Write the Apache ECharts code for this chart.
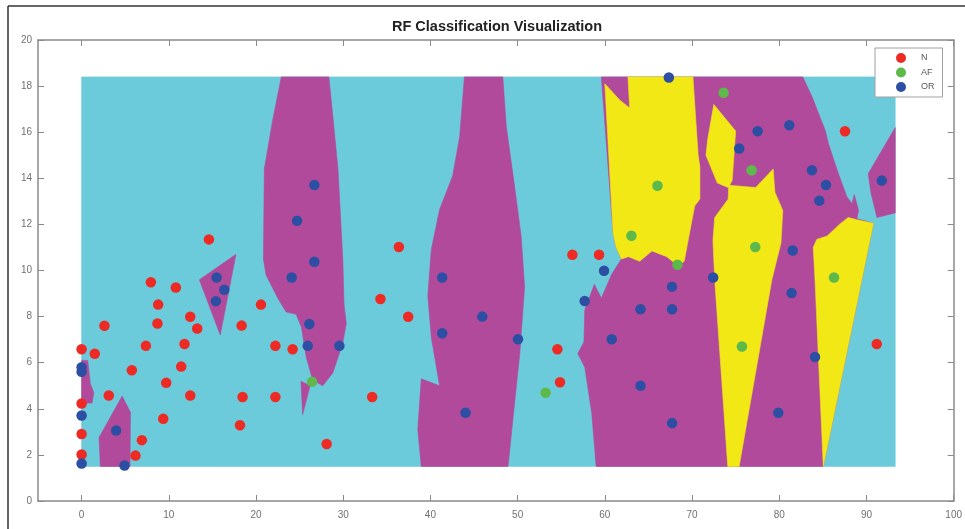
<!DOCTYPE html>
<html><head><meta charset="utf-8">
<script src="https://cdn.jsdelivr.net/npm/echarts@6/dist/echarts.min.js"></script>
<style>html,body{margin:0;padding:0;background:#fff}#c{width:965px;height:529px}</style>
</head><body><div id="c"></div>
<script>
// ---- tick labels ----
const xTicks = [0,10,20,30,40,50,60,70,80,90,100];
const yTicks = [0,2,4,6,8,10,12,14,16,18,20];
const classNames = ['N','AF','OR'];

// ---- observations ----
const pointsN = [[0,6.58],[1.51,6.39],[2.62,7.6],[5.76,5.67],[0,4.23],[3.12,4.58],[0,2.91],[0,2.02],[6.18,1.97],[6.91,2.64],[7.37,6.73],[7.94,9.49],[8.78,8.52],[8.7,7.7],[9.7,5.13],[9.36,3.57],[10.81,9.26],[11.8,6.81],[11.42,5.83],[12.46,7.99],[13.26,7.48],[12.46,4.58],[14.6,11.35],[18.35,7.61],[18.46,4.51],[18.16,3.29],[20.57,8.52],[22.22,6.73],[22.22,4.51],[24.2,6.58],[28.1,2.47],[33.32,4.51],[34.27,8.76],[36.38,11.02],[37.45,7.99],[54.56,6.58],[54.86,5.15],[91.18,6.81],[56.28,10.68],[59.34,10.68],[87.54,16.04]];
const pointsAF = [[26.43,5.17],[53.21,4.7],[63.05,11.51],[66.04,13.68],[68.33,10.25],[73.62,17.71],[76.83,14.35],[77.25,11.02],[75.72,6.7],[86.28,9.7]];
const pointsOR = [[0,5.8],[0,5.61],[0,3.71],[0,1.63],[3.96,3.06],[4.92,1.54],[15.48,9.7],[16.36,9.16],[15.4,8.67],[24.09,9.7],[26.12,7.68],[25.93,6.73],[29.56,6.73],[26.69,13.71],[24.71,12.16],[26.69,10.38],[41.35,9.7],[41.35,7.28],[44.03,3.83],[45.95,8.0],[50.04,7.02],[59.91,9.99],[57.69,8.68],[60.79,7.02],[64.09,8.32],[67.71,9.3],[67.71,8.32],[64.09,5.0],[67.71,3.38],[72.42,9.7],[81.42,9.02],[84.1,6.25],[79.89,3.83],[67.34,18.37],[75.41,15.29],[77.52,16.04],[81.15,16.3],[83.75,14.35],[85.36,13.71],[84.6,13.03],[91.76,13.9],[81.54,10.87]];

// ---- decision regions (polygon vertices in data units) ----
const regionCyan = [[[0,1.5],[93.3,1.5],[93.3,18.4],[0,18.4]]];
const regionMagenta = [
  [[0,6.1],[0.7,6.1],[1.0,5.1],[1.4,4.7],[1.2,4.25],[0,4.25]],
  [[2.0,2.75],[4.65,4.55],[5.6,3.85],[5.55,1.5],[2.15,1.5]],
  [[13.5,9.6],[17.7,10.7],[15.9,7.2]],
  [[22.9,18.4],[28.35,18.4],[28.6,17.5],[29.4,14.4],[29.95,10.5],[30.1,8.5],[30.35,7.7],[29.95,6.85],[28.8,5.55],[27.65,5.0],[26.5,5.25],[25.75,6.25],[25.2,7.55],[24.6,8.1],[23.45,8.2],[22.5,8.8],[21.15,9.8],[20.85,10.5],[20.95,14.4],[21.9,16.5]],
  [[25.15,5.2],[26.2,5.0],[25.35,3.75]],
  [[43.9,18.4],[48.3,18.4],[48.7,16.25],[49.65,13.65],[50.4,11.5],[50.8,9.3],[50.25,6.4],[49.65,4.25],[48.9,1.5],[38.95,1.5],[38.55,3.1],[38.95,5.3],[41.05,5.0],[40.1,7.1],[39.7,8.9],[40.1,10.9],[41.05,12.65],[42.55,14.1],[43.35,15.8]],
  [[59.6,18.4],[82.7,18.4],[83.75,17.55],[85.3,16.05],[85.65,15.5],[86.6,14.4],[87.75,13.2],[88.35,12.9],[88.6,13.3],[89.1,12.6],[88.9,12.25],[90.8,12.05],[85.05,1.5],[59.0,1.5],[58.5,3.8],[57.7,5.8],[56.9,6.4],[57.6,6.9],[57.7,8.3],[58.8,9.4],[59.6,8.8],[60.8,9.85],[61.9,10.5],[61.3,11.0],[60.95,11.6]],
  [[93.3,16.2],[90.2,14.2],[90.5,13.4],[91.2,12.3],[93.3,12.5]]
];
const regionYellow = [
  [[62.65,18.4],[70.1,18.4],[70.7,15.0],[70.9,14.5],[70.9,13.1],[70.3,12.8],[69.9,12.0],[69.1,10.4],[68.4,10.2],[67.1,10.6],[65.4,10.85],[64.0,10.4],[62.7,10.6],[61.9,10.5],[61.3,11.0],[60.95,11.6],[60.0,18.1],[61.7,17.4],[62.85,17.05]],
  [[72.5,17.2],[75.0,16.05],[74.6,13.9],[74.15,13.6],[72.9,13.8],[71.6,15.0],[71.8,15.7]],
  [[74.2,13.7],[77.3,13.6],[79.3,14.4],[79.5,13.4],[80.4,12.6],[80.2,11.2],[79.15,9.6],[75.4,1.5],[74.1,1.5],[72.6,9.6],[72.4,11.3],[72.6,12.3],[74.15,13.1]],
  [[84.3,11.35],[85.5,11.5],[86.9,12.0],[87.9,12.3],[88.9,12.2],[90.8,12.05],[85.05,1.5],[84.1,9.6],[83.9,11.0]]
];

const COL = {cyan:'#6ccbdb', magenta:'#b24a9c', yellow:'#f2e816', N:'#ee2a24', AF:'#5db94a', OR:'#2c4ea3'};
const axisGray = '#8a8a8a';

function regionSeries(name, polys, color){
  return {
    type:'custom', name:name, silent:true, clip:true,
    coordinateSystem:'cartesian2d', xAxisIndex:0, yAxisIndex:0,
    data: polys.map((p,i)=>[i]),
    renderItem:function(params, api){
      const pts = polys[params.dataIndex].map(v=>api.coord(v));
      return {type:'polygon', shape:{points:pts}, style:{fill:color, stroke:color, lineWidth:0.6}};
    }
  };
}
function pointSeries(name, pts, color){
  return {type:'scatter', name:name, data:pts, symbol:'circle', symbolSize:10.5,
    itemStyle:{color:color, opacity:1}, emphasis:{disabled:true}, xAxisIndex:0, yAxisIndex:0, z:5};
}
function xAx(pos, labels){
  return {type:'value', min:-5, max:100, position:pos,
    axisLine:{onZero:false, lineStyle:{color:axisGray, width:1.5}},
    axisTick:{inside:true, length:6, customValues:xTicks, lineStyle:{color:axisGray, width:1}},
    axisLabel:{show:labels, customValues:xTicks, color:'#707070', fontSize:10, margin:9, fontFamily:'Liberation Sans, Arial'},
    splitLine:{show:false}};
}
function yAx(pos, labels){
  return {type:'value', min:0, max:20, interval:2, position:pos,
    axisLine:{onZero:false, lineStyle:{color:axisGray, width:1.5}},
    axisTick:{inside:true, length:6, lineStyle:{color:axisGray, width:1}},
    axisLabel:{show:labels, color:'#707070', fontSize:10, margin:6, fontFamily:'Liberation Sans, Arial',
      formatter:v=> yTicks.indexOf(v)>=0 ? String(v) : ''},
    splitLine:{show:false}};
}

const chart = echarts.init(document.getElementById('c'), null, {renderer:'canvas'});
chart.setOption({
  animation:false,
  backgroundColor:'#fff',
  title:{text:'RF Classification Visualization', left:392, top:19, padding:0,
    textStyle:{fontSize:14.5, fontWeight:'bold', color:'#222', fontFamily:'Liberation Sans, Arial'}},
  grid:{left:38, right:11, top:40, bottom:28, containLabel:false},
  xAxis:[xAx('bottom', true), xAx('top', false)],
  yAxis:[yAx('left', true), yAx('right', false)],
  legend:{
    data:classNames.map(n=>({name:n, icon:'circle'})),
    orient:'vertical', left:875, top:48,
    itemWidth:10, itemHeight:10, itemGap:4.5,
    padding:[5,8,5,21], backgroundColor:'#fff', borderColor:'#a0a0a0', borderWidth:1,
    textStyle:{fontSize:9, color:'#555', padding:[0,0,0,10], fontFamily:'Liberation Sans, Arial'}
  },
  graphic:[
    {type:'line', shape:{x1:8, y1:6, x2:965, y2:6}, style:{stroke:'#333', lineWidth:1.5}, silent:true},
    {type:'line', shape:{x1:8, y1:6, x2:8, y2:529}, style:{stroke:'#333', lineWidth:1.5}, silent:true}
  ],
  series:[
    regionSeries('cyanRegion', regionCyan, COL.cyan),
    regionSeries('magentaRegion', regionMagenta, COL.magenta),
    regionSeries('yellowRegion', regionYellow, COL.yellow),
    pointSeries('N', pointsN, COL.N),
    pointSeries('AF', pointsAF, COL.AF),
    pointSeries('OR', pointsOR, COL.OR)
  ]
});
</script>
</body></html>
